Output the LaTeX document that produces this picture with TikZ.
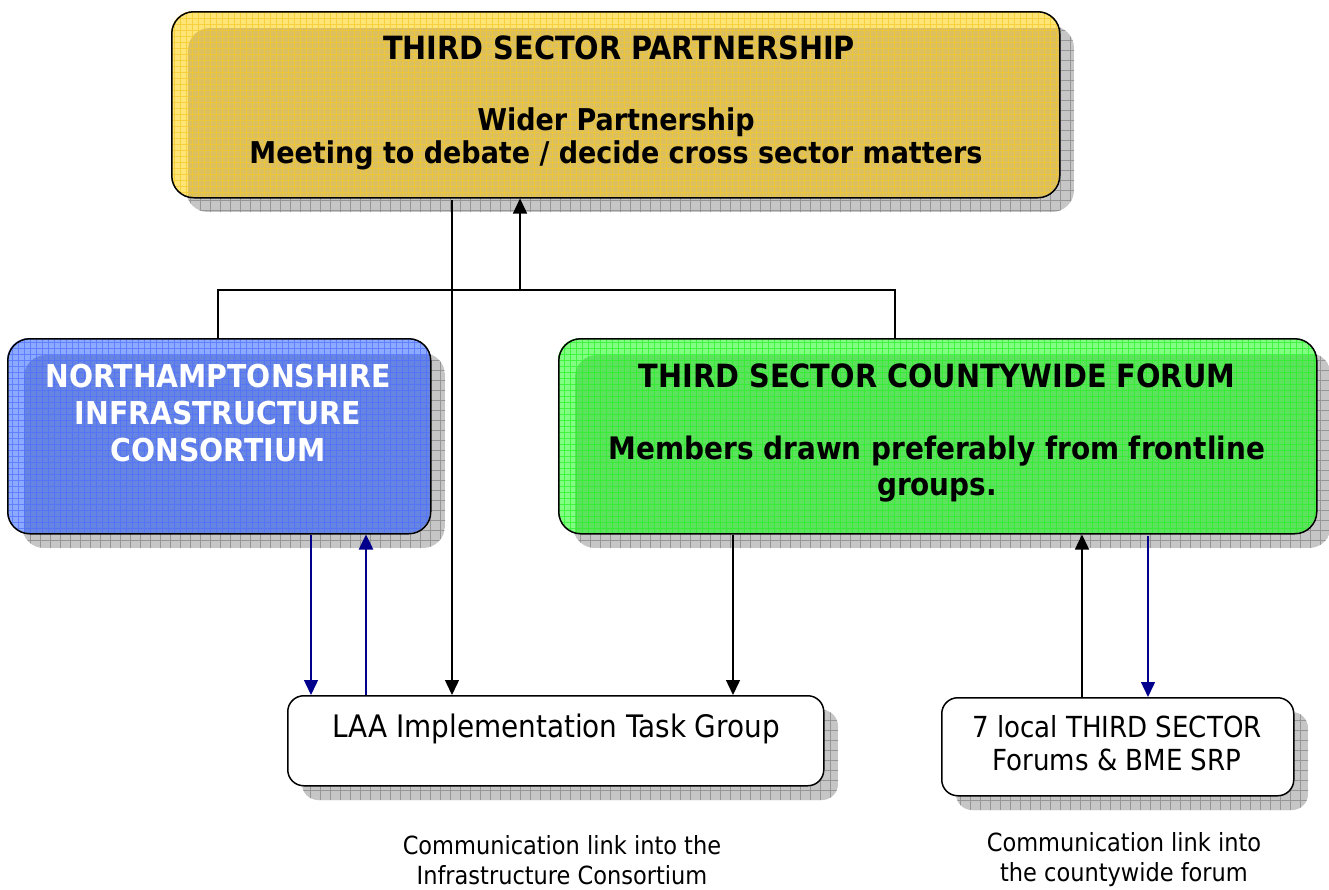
\documentclass[tikz,border=0pt]{standalone}
\usepackage{fontspec}
\setmainfont{DejaVu Sans Condensed}
\usetikzlibrary{arrows.meta}
\definecolor{yLight}{RGB}{255,228,118}
\definecolor{yDark}{RGB}{220,192,96}
\definecolor{yGrid}{RGB}{245,200,40}
\definecolor{bLight}{RGB}{140,170,255}
\definecolor{bDark}{RGB}{102,132,226}
\definecolor{bGrid}{RGB}{80,110,255}
\definecolor{gLight}{RGB}{130,255,130}
\definecolor{gDark}{RGB}{92,226,92}
\definecolor{gGrid}{RGB}{40,240,40}
\definecolor{shFill}{RGB}{198,198,198}
\definecolor{shGrid}{RGB}{150,150,150}
\definecolor{arrNavy}{RGB}{0,0,140}
\tikzset{
  x=1pt, y=-1pt,
  boxframe/.style={draw=black, line width=1.5pt, rounded corners=22pt, anchor=north west, inner sep=0pt},
  smallframe/.style={draw=black, line width=1.5pt, rounded corners=16pt, anchor=north west, inner sep=0pt, fill=white},
  txt/.style={align=center, inner sep=0pt},
  conn/.style={line width=1.4pt, -{Triangle[width=14pt,length=15pt]}},
  navythin/.style={conn, draw=arrNavy},
  navythick/.style={line width=2.5pt, draw=arrNavy, -{Triangle[width=14pt,length=15pt]}},
  plain/.style={line width=1.4pt}
}
% shadow: x1 y1 x2 y2 radius
\newcommand{\shadowbox}[5]{%
  \begin{scope}
    \clip[rounded corners=#5] (#1+15,#2+15) rectangle (#3+15,#4+15);
    \fill[shFill] (#1+15,#2+15) rectangle (#3+15,#4+15);
    \draw[shGrid, line width=0.8pt, step=10pt] (#1,#2) grid (#3+20,#4+20);
  \end{scope}}
% coloured fill: x1 y1 x2 y2 light dark grid
\newcommand{\colorfill}[7]{%
  \begin{scope}
    \clip[rounded corners=22pt] (#1,#2) rectangle (#3,#4);
    \fill[#5] (#1,#2) rectangle (#3,#4);
    \fill[#6, rounded corners=22pt] (#1+17,#2+17) rectangle (#3+40,#4+40);
    \draw[#7, line width=0.6pt, opacity=0.7, step=6pt] (#1,#2) grid (#3,#4);
  \end{scope}}
\begin{document}
\begin{tikzpicture}
\useasboundingbox (0,0) rectangle (1329,889);
% ---------- backgrounds
\shadowbox{171}{11}{1059}{197}{22pt}
\shadowbox{7}{338}{430}{533}{22pt}
\shadowbox{558}{338}{1316}{533}{22pt}
\shadowbox{287}{695}{823}{785}{16pt}
\shadowbox{941}{697}{1293}{795}{16pt}
\colorfill{171}{11}{1059}{197}{yLight}{yDark}{yGrid}
\colorfill{7}{338}{430}{533}{bLight}{bDark}{bGrid}
\colorfill{558}{338}{1316}{533}{gLight}{gDark}{gGrid}
% ---------- boxes
\node[boxframe, minimum width=888pt, minimum height=186pt] (tsp) at (171,11) {};
\node[boxframe, minimum width=423pt, minimum height=195pt] (nic) at (7,338) {};
\node[boxframe, minimum width=758pt, minimum height=195pt] (cwf) at (558,338) {};
\node[smallframe, minimum width=536pt, minimum height=90pt] (laa) at (287,695) {};
\node[smallframe, minimum width=352pt, minimum height=98pt] (loc) at (941,697) {};
% ---------- texts
\node[txt, font=\bfseries\fontsize{32}{33}\selectfont] (tspT) at (619,48) {THIRD SECTOR PARTNERSHIP};
\node[txt, font=\bfseries\fontsize{30}{33}\selectfont] (tspS) at (616,139) {Wider Partnership\\Meeting to debate / decide cross sector matters};
\node[txt, font=\bfseries\fontsize{31.5}{37}\selectfont, text=white] (nicT) at (218,413) {NORTHAMPTONSHIRE\\INFRASTRUCTURE\\CONSORTIUM};
\node[txt, font=\bfseries\fontsize{32}{33}\selectfont] (cwfT) at (937,376) {THIRD SECTOR COUNTYWIDE FORUM};
\node[txt, font=\bfseries\fontsize{31}{36}\selectfont] (cwfS) at (937,469) {Members drawn preferably from frontline\\groups.};
\node[txt, font=\fontsize{31}{35}\selectfont] (laaT) at (556,729) {LAA Implementation Task Group};
\node[txt, font=\fontsize{29}{33}\selectfont] (locT) at (1117,743) {7 local THIRD SECTOR\\Forums \& BME SRP};
\node[txt, font=\fontsize{25}{30}\selectfont] (cap1) at (562,860) {Communication link into the\\Infrastructure Consortium};
\node[txt, font=\fontsize{25}{30}\selectfont] (cap2) at (1124,860) {Communication link into\\the countywide forum};
% ---------- connectors
\coordinate (jL) at (218,290);
\coordinate (jR) at (895,290);
\coordinate (jM) at (520,290);
\draw[plain] (nic.north -| jL) -- (jL) -- (jR) -- (cwf.north -| jR);
\draw[conn] (jM) -- (tsp.south -| jM);
\draw[conn] (452,200) -- (laa.north -| 452,0);
\draw[navythin] (nic.south -| 311,0) -- (laa.north -| 311,0);
\draw[navythick] (laa.north -| 366,0) -- (nic.south -| 366,0);
\draw[conn] (cwf.south -| 733,0) -- (laa.north -| 733,0);
\draw[conn] (loc.north -| 1082,0) -- (cwf.south -| 1082,0);
\draw[navythin] (1148,536) -- (loc.north -| 1148,0);
\end{tikzpicture}
\end{document}
